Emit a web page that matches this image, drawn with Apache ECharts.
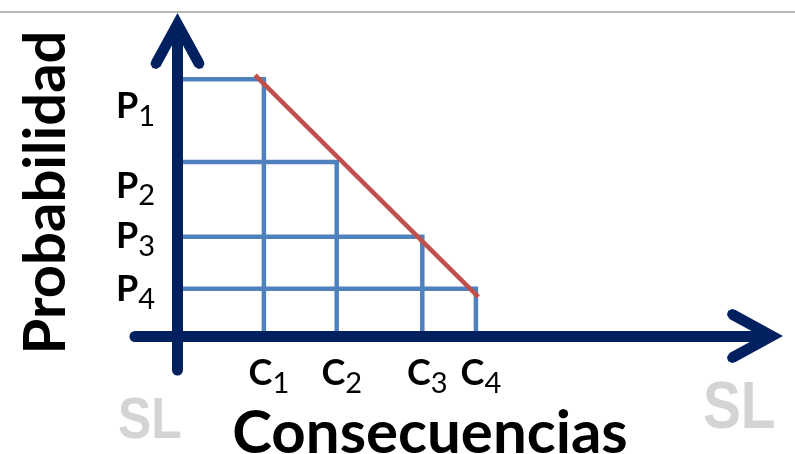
<!DOCTYPE html>
<html>
<head>
<meta charset="utf-8">
<script src="https://cdn.jsdelivr.net/npm/echarts@6/dist/echarts.min.js"></script>
<style>
  html, body { margin: 0; padding: 0; background: #fff; }
  #chart { width: 795px; height: 454px; }
</style>
</head>
<body>
<div id="chart"></div>
<script>
// valores (unidades arbitrarias)
const consecuencias = [1.08, 1.99, 3.06, 3.73];
const probabilidades = [3.21, 2.175, 1.24, 0.59];
const etiquetasC = ['C1', 'C2', 'C3', 'C4'];
const etiquetasP = ['P1', 'P2', 'P3', 'P4'];
// linea roja (frontera de riesgo)
const curvaX = [0.97, 3.76];
const curvaY = [3.26, 0.49];

const AZUL_EJE = '#002060';
const FUENTE = 'Lato';

// flecha abierta (chevron) para los extremos de los ejes
const flecha = 'path://M29 0L55 47.5L56 51L54 55L50 56L46 53.5L29 22.3L12 53.5L8 56L4 55L2 51L3 47.5Z';

// desplazamiento vertical (px) de las etiquetas P, como en el original
const caidaP = [27, 24, 0, 1];

const richP = {};
caidaP.forEach((d, i) => {
  richP['m' + i] = { fontFamily: FUENTE, fontWeight: 'bold', fontSize: 36, color: '#000', padding: [2 * d, 0, 0, 0] };
  richP['s' + i] = { fontFamily: FUENTE, fontWeight: 'normal', fontSize: 29, color: '#000', padding: [2 * d + 20, 0, 0, 0] };
});

const cercano = (arr, v) => {
  let best = 0;
  arr.forEach((a, i) => { if (Math.abs(a - v) < Math.abs(arr[best] - v)) best = i; });
  return best;
};

const chart = echarts.init(document.getElementById('chart'));

const escalones = consecuencias.map((c, i) => ({
  type: 'line',
  data: [[0, probabilidades[i]], [c, probabilidades[i]], [c, 0]],
  symbol: 'none',
  silent: true,
  lineStyle: { color: '#4f81bd', width: 4.5, join: 'miter', cap: 'butt' },
  z: 2
}));

chart.setOption({
  animation: false,
  grid: { left: 135, right: 40, top: 41, bottom: 84, containLabel: false, outerBoundsMode: 'none' },
  xAxis: {
    type: 'value',
    min: -0.53125,
    max: 7.21875,
    z: 5,
    axisLine: { onZero: true, lineStyle: { color: AZUL_EJE, width: 11 }, symbol: ['none', flecha], symbolSize: [56, 56] },
    axisTick: { show: false },
    splitLine: { show: false },
    axisLabel: {
      customValues: consecuencias,
      margin: 3,
      verticalAlign: 'middle',
      formatter: (v) => {
        const t = etiquetasC[cercano(consecuencias, v)];
        return '{c|' + t[0] + '}{d|' + t.slice(1) + '}';
      },
      rich: {
        c: { fontFamily: FUENTE, fontWeight: 'bold', fontSize: 36, color: '#000', padding: [0, 0, 0, 10] },
        d: { fontFamily: FUENTE, fontWeight: 'normal', fontSize: 29, color: '#000', padding: [22, 0, 0, 0] }
      }
    },
    name: 'Consecuencias',
    nameLocation: 'middle',
    nameGap: 29,
    nameTextStyle: { fontFamily: FUENTE, fontWeight: 'bold', fontSize: 60, color: '#000', padding: [0, 30, 0, 0] }
  },
  yAxis: {
    type: 'value',
    min: -0.425,
    max: 3.6875,
    z: 5,
    axisLine: { onZero: true, lineStyle: { color: AZUL_EJE, width: 11 }, symbol: ['none', flecha], symbolSize: [56, 56] },
    axisTick: { show: false },
    splitLine: { show: false },
    axisLabel: {
      customValues: probabilidades,
      margin: -20,
      formatter: (v) => {
        const i = cercano(probabilidades, v);
        const t = etiquetasP[i];
        return '{m' + i + '|' + t[0] + '}{s' + i + '|' + t.slice(1) + '}';
      },
      rich: richP
    },
    name: 'Probabilidad',
    nameLocation: 'middle',
    nameRotate: 90,
    nameGap: 60,
    nameTextStyle: { fontFamily: FUENTE, fontWeight: 'bold', fontSize: 58, color: '#000', padding: [0, 0, 0, 26] }
  },
  series: escalones.concat([{
    type: 'line',
    data: curvaX.map((x, i) => [x, curvaY[i]]),
    symbol: 'none',
    silent: true,
    lineStyle: { color: '#c0504d', width: 4.5, cap: 'butt' },
    z: 3
  }]),
  graphic: [
    { type: 'line', shape: { x1: 0, y1: 12, x2: 795, y2: 12 }, style: { stroke: '#a0a0a0', lineWidth: 1.5 }, silent: true },
    { type: 'text', x: 118, y: 422, scaleX: 0.86, silent: true,
      style: { text: 'SL', fill: '#d4d4d4', font: 'bold 58px "Liberation Sans"', textAlign: 'left', textVerticalAlign: 'middle' } },
    { type: 'text', x: 703, y: 410, scaleX: 0.86, silent: true,
      style: { text: 'SL', fill: '#d4d4d4', font: 'bold 66px "Liberation Sans"', textAlign: 'left', textVerticalAlign: 'middle' } }
  ]
});
</script>
</body>
</html>
